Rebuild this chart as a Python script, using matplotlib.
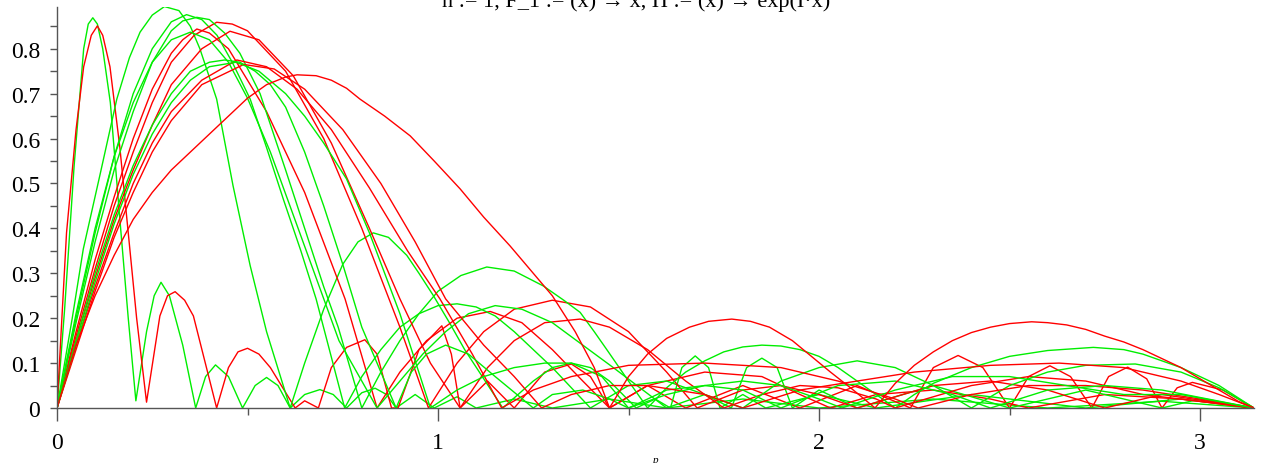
import matplotlib
matplotlib.use("Agg")
import matplotlib.pyplot as plt
from matplotlib.ticker import MultipleLocator, FixedLocator, FuncFormatter

TITLE = "n := 1, F_1 := (x) \u2192 x, H := (x) \u2192 exp(I\u00b7x)"
XLABEL = "p"
XTICKS = [0, 1, 2, 3]
YTICKS = [0, 0.1, 0.2, 0.3, 0.4, 0.5, 0.6, 0.7, 0.8]
PMAX = 3.1416

# ---- green curves (p, value) ----
G1_P = [0, 0.02, 0.045, 0.07, 0.082, 0.094, 0.106, 0.12, 0.14, 0.165, 0.187, 0.207, 0.235, 0.255, 0.273, 0.295,
        0.33, 0.364, 0.39, 0.416, 0.45, 0.487, 0.52, 0.55, 0.58, 0.612, 0.65, 0.69, 0.725, 0.76, 0.80, 0.835,
        0.865, 0.89, 0.94, 0.99, 1.05, 1.1, 1.2, 1.3, 1.45, 1.6, 1.8, 2.0, 2.3, 2.6, 2.9, 3.1416]
G1_V = [0, 0.22, 0.54, 0.80, 0.855, 0.869, 0.855, 0.80, 0.68, 0.42, 0.2, 0.016, 0.17, 0.25, 0.28, 0.25,
        0.14, 0.0, 0.07, 0.096, 0.07, 0.0, 0.05, 0.068, 0.05, 0.0, 0.03, 0.041, 0.03, 0.0, 0.034, 0.044,
        0.03, 0.0, 0.03, 0.0, 0.025, 0.0, 0.02, 0.0, 0.02, 0.0, 0.02, 0.0, 0.02, 0.0, 0.015, 0]

G2_P = [0, 0.04, 0.069, 0.113, 0.157, 0.19, 0.218, 0.25, 0.282, 0.32, 0.35, 0.375, 0.419, 0.462, 0.507, 0.55,
        0.612, 0.65, 0.7, 0.75, 0.79, 0.83, 0.87, 0.918, 0.95, 0.988, 1.03, 1.07, 1.12, 1.17, 1.25, 1.3, 1.35,
        1.4, 1.45, 1.52, 1.57, 1.61, 1.64, 1.675, 1.71, 1.74, 1.8, 1.86, 2.0, 2.15, 2.4, 2.7, 2.95, 3.1416]
G2_V = [0, 0.2, 0.354, 0.52, 0.688, 0.78, 0.837, 0.875, 0.894, 0.885, 0.85, 0.80, 0.688, 0.495, 0.317, 0.17,
        0.0, 0.1, 0.22, 0.32, 0.37, 0.39, 0.38, 0.34, 0.30, 0.25, 0.19, 0.13, 0.065, 0.0, 0.06, 0.09, 0.10,
        0.09, 0.06, 0.0, 0.02, 0.0, 0.09, 0.116, 0.09, 0.0, 0.03, 0.0, 0.03, 0.0, 0.03, 0.0, 0.02, 0]

G3_P = [0, 0.05, 0.1, 0.15, 0.2, 0.25, 0.3, 0.34, 0.38, 0.42, 0.46, 0.507, 0.55, 0.594, 0.64, 0.68, 0.755,
        0.8, 0.85, 0.9, 0.95, 1.0, 1.05, 1.1, 1.15, 1.2, 1.25, 1.3, 1.35, 1.4, 1.5, 1.6, 1.7, 1.77, 1.81, 1.85,
        1.89, 1.93, 2.0, 2.1, 2.3, 2.5, 2.7, 2.9, 3.0, 3.1416]
G3_V = [0, 0.2, 0.39, 0.56, 0.7, 0.8, 0.86, 0.876, 0.865, 0.83, 0.77, 0.688, 0.58, 0.465, 0.35, 0.243, 0.0,
        0.07, 0.13, 0.18, 0.21, 0.228, 0.232, 0.225, 0.205, 0.17, 0.13, 0.09, 0.045, 0.0, 0.05, 0.06, 0.03, 0.0,
        0.09, 0.111, 0.09, 0.0, 0.04, 0.0, 0.05, 0.0, 0.04, 0.0, 0.02, 0]

G4_P = [0, 0.05, 0.1, 0.15, 0.2, 0.25, 0.3, 0.33, 0.367, 0.40, 0.44, 0.48, 0.533, 0.6, 0.65, 0.7, 0.738,
        0.80, 0.85, 0.9, 0.95, 1.0, 1.06, 1.128, 1.2, 1.276, 1.33, 1.373, 1.41, 1.443, 1.5, 1.55,
        1.6, 1.65, 1.7, 1.75, 1.8, 1.85, 1.9, 1.95, 2.0, 2.05, 2.1, 2.15, 2.2, 2.25, 2.3, 2.4, 2.5, 2.6,
        2.72, 2.8, 2.85, 2.95, 3.05, 3.1416]
G4_V = [0, 0.19, 0.37, 0.53, 0.66, 0.77, 0.84, 0.862, 0.870, 0.865, 0.835, 0.79, 0.70, 0.53, 0.40, 0.27, 0.18,
        0.0, 0.08, 0.15, 0.21, 0.26, 0.295, 0.314, 0.305, 0.272, 0.24, 0.213, 0.17, 0.13, 0.06, 0.0,
        0.045, 0.08, 0.105, 0.125, 0.136, 0.14, 0.138, 0.13, 0.115, 0.09, 0.06, 0.03, 0.0, 0.03, 0.055, 0.09,
        0.115, 0.128, 0.135, 0.13, 0.12, 0.09, 0.05, 0]

G5_P = [0, 0.05, 0.1, 0.15, 0.2, 0.25, 0.3, 0.35, 0.4, 0.45, 0.5, 0.56, 0.62, 0.68, 0.74, 0.84,
        0.9, 0.96, 1.02, 1.08, 1.15, 1.22, 1.3, 1.38, 1.46, 1.6,
        1.7, 1.8, 1.9, 2.0, 2.1, 2.2, 2.3, 2.4, 2.5, 2.6, 2.7, 2.83, 2.95, 3.05, 3.1416]
G5_V = [0, 0.21, 0.4, 0.56, 0.68, 0.77, 0.82, 0.837, 0.82, 0.77, 0.69, 0.57, 0.43, 0.29, 0.15, 0.0,
        0.06, 0.12, 0.17, 0.21, 0.228, 0.22, 0.19, 0.14, 0.09, 0.0,
        0.03, 0.0, 0.06, 0.09, 0.105, 0.09, 0.05, 0.0, 0.05, 0.08, 0.095, 0.098, 0.08, 0.045, 0]

G6_P = [0, 0.05, 0.1, 0.15, 0.2, 0.25, 0.3, 0.35, 0.4, 0.44, 0.48, 0.52, 0.56, 0.6, 0.65, 0.7, 0.75, 0.8, 0.89,
        0.93, 0.97, 1.02, 1.08, 1.15, 1.25, 1.3, 1.38, 1.45, 1.5, 1.6, 1.7, 1.8, 1.9,
        2.05, 2.2, 2.35, 2.45, 2.6, 2.75, 2.9, 3.1416]
G6_V = [0, 0.15, 0.3, 0.43, 0.54, 0.63, 0.70, 0.75, 0.77, 0.775, 0.77, 0.75, 0.72, 0.67, 0.57, 0.45, 0.32, 0.18, 0.0,
        0.08, 0.12, 0.14, 0.12, 0.07, 0.0, 0.03, 0.04, 0.02, 0.0, 0.04, 0.05, 0.04, 0.0,
        0.05, 0.06, 0.03, 0.0, 0.04, 0.05, 0.04, 0]

G7_P = [0, 0.05, 0.1, 0.15, 0.2, 0.25, 0.3, 0.35, 0.4, 0.47, 0.53, 0.6, 0.65, 0.7, 0.76, 0.82, 0.9, 0.98,
        1.05, 1.12, 1.2, 1.28, 1.35, 1.43, 1.5, 1.6, 1.7, 1.8, 1.9, 2.0, 2.06, 2.2, 2.35, 2.5, 2.65, 2.8,
        2.95, 3.1416]
G7_V = [0, 0.14, 0.28, 0.41, 0.52, 0.61, 0.68, 0.73, 0.76, 0.77, 0.75, 0.70, 0.65, 0.59, 0.51, 0.39, 0.21, 0.0,
        0.04, 0.07, 0.09, 0.10, 0.10, 0.07, 0.0, 0.03, 0.05, 0.06, 0.05, 0.02, 0.0, 0.04, 0.07, 0.07, 0.05, 0.03,
        0.03, 0]

# ---- red curves ----
R1_P = [0, 0.025, 0.05, 0.07, 0.09, 0.106, 0.12, 0.139, 0.165, 0.187, 0.209, 0.235, 0.27, 0.29, 0.31, 0.335,
        0.358, 0.419, 0.45, 0.475, 0.5, 0.53, 0.56, 0.625, 0.65, 0.686, 0.72, 0.76, 0.808, 0.84, 0.878,
        0.895, 0.95, 1.01, 1.035, 1.058, 1.13, 1.2, 1.28, 1.35, 1.4, 1.45, 1.55, 1.65, 1.8, 1.95, 2.1,
        2.24, 2.3, 2.365, 2.43, 2.5, 2.55, 2.606, 2.66, 2.716, 2.76, 2.81, 2.86, 2.90, 2.94, 2.98, 3.06, 3.1416]
R1_V = [0, 0.39, 0.62, 0.76, 0.83, 0.851, 0.83, 0.76, 0.58, 0.39, 0.2, 0.013, 0.205, 0.25, 0.259, 0.24,
        0.205, 0.0, 0.09, 0.125, 0.133, 0.12, 0.09, 0.0, 0.016, 0.0, 0.09, 0.135, 0.152, 0.12, 0.0,
        0.0, 0.13, 0.183, 0.12, 0.0, 0.06, 0.0, 0.08, 0.098, 0.07, 0.0, 0.05, 0.0, 0.05, 0.0, 0.05,
        0.0, 0.09, 0.117, 0.09, 0.0, 0.07, 0.094, 0.07, 0.0, 0.07, 0.091, 0.065, 0.0, 0.045, 0.057, 0.04, 0]

R2_P = [0, 0.05, 0.1, 0.15, 0.2, 0.25, 0.3, 0.33, 0.367, 0.40, 0.45, 0.55, 0.65, 0.756, 0.84, 0.9, 0.97, 1.05,
        1.137, 1.22, 1.3, 1.38, 1.45, 1.55, 1.7, 1.85, 1.95, 2.03, 2.15, 2.3, 2.45, 2.55, 2.75, 2.95, 3.1416]
R2_V = [0, 0.17, 0.33, 0.47, 0.6, 0.71, 0.79, 0.82, 0.844, 0.835, 0.80, 0.66, 0.48, 0.243, 0.0, 0.08, 0.15, 0.2,
        0.215, 0.19, 0.13, 0.06, 0.0, 0.05, 0.08, 0.07, 0.03, 0.0, 0.03, 0.04, 0.02, 0.0, 0.03, 0.02, 0]

R3_P = [0, 0.05, 0.1, 0.15, 0.2, 0.25, 0.3, 0.36, 0.419, 0.46, 0.5, 0.6, 0.7, 0.8, 0.9, 0.975, 1.05, 1.12,
        1.2, 1.3, 1.4, 1.5, 1.6, 1.68, 1.8, 1.9, 2.0, 2.1, 2.3, 2.45, 2.6, 2.75, 2.9, 3.1416]
R3_V = [0, 0.16, 0.31, 0.45, 0.57, 0.68, 0.77, 0.83, 0.859, 0.855, 0.84, 0.75, 0.60, 0.40, 0.18, 0.0, 0.1, 0.17,
        0.22, 0.24, 0.225, 0.17, 0.08, 0.0, 0.04, 0.05, 0.03, 0.0, 0.05, 0.06, 0.04, 0.0, 0.03, 0]

R4_P = [0, 0.05, 0.1, 0.15, 0.2, 0.25, 0.3, 0.38, 0.454, 0.53, 0.62, 0.72, 0.82, 0.9, 0.98, 1.058,
        1.13, 1.2, 1.28, 1.373, 1.45, 1.55, 1.65, 1.75, 1.85, 1.95, 2.05, 2.15, 2.2, 2.4, 2.55, 2.7, 2.85, 3.1416]
R4_V = [0, 0.15, 0.29, 0.42, 0.53, 0.63, 0.72, 0.80, 0.839, 0.82, 0.74, 0.59, 0.40, 0.243, 0.1, 0.0,
        0.09, 0.15, 0.19, 0.198, 0.18, 0.13, 0.06, 0.0, 0.03, 0.05, 0.045, 0.02, 0.0, 0.05, 0.07, 0.06, 0.03, 0]

R5_P = [0, 0.05, 0.1, 0.15, 0.2, 0.25, 0.3, 0.38, 0.472, 0.55, 0.63, 0.72, 0.82, 0.92, 1.005, 1.09,
        1.167, 1.25, 1.35, 1.5, 1.7, 1.9, 2.05, 2.2, 2.26, 2.4, 2.55, 2.7, 2.85, 3.0, 3.1416]
R5_V = [0, 0.14, 0.27, 0.39, 0.50, 0.59, 0.66, 0.73, 0.775, 0.76, 0.71, 0.62, 0.49, 0.35, 0.243, 0.12,
        0.0, 0.04, 0.07, 0.095, 0.10, 0.09, 0.06, 0.02, 0.0, 0.03, 0.05, 0.05, 0.04, 0.02, 0]

R6_P = [0, 0.05, 0.1, 0.15, 0.2, 0.25, 0.3, 0.38, 0.49, 0.57, 0.65, 0.75, 0.85, 0.94, 1.02, 1.12, 1.2,
        1.272, 1.35, 1.45, 1.55, 1.7, 1.8, 1.95, 2.1, 2.25, 2.45, 2.63, 2.8, 2.95, 3.05, 3.1416]
R6_V = [0, 0.13, 0.26, 0.38, 0.48, 0.57, 0.64, 0.72, 0.765, 0.755, 0.71, 0.62, 0.50, 0.37, 0.243, 0.14, 0.07,
        0.0, 0.03, 0.05, 0.05, 0.03, 0.0, 0.04, 0.06, 0.08, 0.095, 0.10, 0.09, 0.06, 0.03, 0]

R7_P = [0, 0.05, 0.1, 0.15, 0.2, 0.25, 0.3, 0.375, 0.45, 0.5, 0.55, 0.6, 0.63, 0.68, 0.72, 0.76, 0.795, 0.86,
        0.927, 0.99, 1.058, 1.12, 1.189, 1.25, 1.30, 1.36, 1.41, 1.45,
        1.5, 1.55, 1.6, 1.66, 1.71, 1.771, 1.82, 1.87, 1.93, 1.98, 2.03, 2.09, 2.147,
        2.2, 2.25, 2.3, 2.35, 2.4, 2.45, 2.5, 2.558, 2.6, 2.65, 2.7, 2.75, 2.8, 2.85, 2.9, 2.95, 3.0,
        3.05, 3.1, 3.1416]
R7_V = [0, 0.14, 0.25, 0.34, 0.42, 0.48, 0.53, 0.59, 0.65, 0.69, 0.72, 0.737, 0.742, 0.74, 0.73, 0.712, 0.688, 0.65,
        0.606, 0.55, 0.488, 0.425, 0.361, 0.30, 0.25, 0.17, 0.09, 0.0,
        0.07, 0.12, 0.155, 0.18, 0.193, 0.198, 0.193, 0.18, 0.15, 0.115, 0.08, 0.04, 0.0,
        0.055, 0.095, 0.125, 0.15, 0.168, 0.18, 0.188, 0.192, 0.19, 0.185, 0.175, 0.16, 0.147, 0.13, 0.11, 0.09, 0.065,
        0.04, 0.015, 0]

GREEN = [(G1_P, G1_V), (G2_P, G2_V), (G3_P, G3_V), (G4_P, G4_V), (G5_P, G5_V), (G6_P, G6_V), (G7_P, G7_V)]
RED = [(R1_P, R1_V), (R2_P, R2_V), (R3_P, R3_V), (R4_P, R4_V), (R5_P, R5_V), (R6_P, R6_V), (R7_P, R7_V)]

plt.rcParams['font.family'] = ['Liberation Serif', 'DejaVu Serif']
fig = plt.figure(figsize=(12.75, 4.64), dpi=100)
ax = fig.add_axes([57 / 1275, 55 / 464, (1254 - 57) / 1275, (409 - 8) / 464])

for (gp, gv), (rp, rv) in zip(GREEN, RED):
    ax.plot(gp, gv, color='#00ee00', lw=1.0, solid_joinstyle='round')
    ax.plot(rp, rv, color='#ff0000', lw=1.0, solid_joinstyle='round')

ax.set_xlim(0, PMAX)
ax.set_ylim(0, 0.893)
for s in ('top', 'right'):
    ax.spines[s].set_visible(False)
for s in ('left', 'bottom'):
    ax.spines[s].set_color('#555555')
    ax.spines[s].set_linewidth(1.0)

ax.xaxis.set_major_locator(FixedLocator(XTICKS))
ax.xaxis.set_minor_locator(MultipleLocator(0.5))
ax.yaxis.set_major_locator(FixedLocator(YTICKS))
ax.yaxis.set_minor_locator(MultipleLocator(0.05))
fmt = FuncFormatter(lambda v, pos: "0" if abs(v) < 1e-9 else ("%g" % round(v, 2)))
ax.xaxis.set_major_formatter(fmt)
ax.yaxis.set_major_formatter(fmt)
ax.tick_params(axis='x', which='major', length=9, width=1, color='#555555', labelsize=17, pad=8)
ax.tick_params(axis='x', which='minor', length=5, width=1, color='#555555')
ax.tick_params(axis='y', which='both', length=5, width=1, color='#555555', labelsize=17, pad=7)

ax.set_xlabel(XLABEL, fontsize=8, style='italic', labelpad=2)
fig.text(636 / 1275, 1 - 7 / 464, TITLE, ha='center', va='baseline', fontsize=16)

fig.savefig("out.png", dpi=100)
